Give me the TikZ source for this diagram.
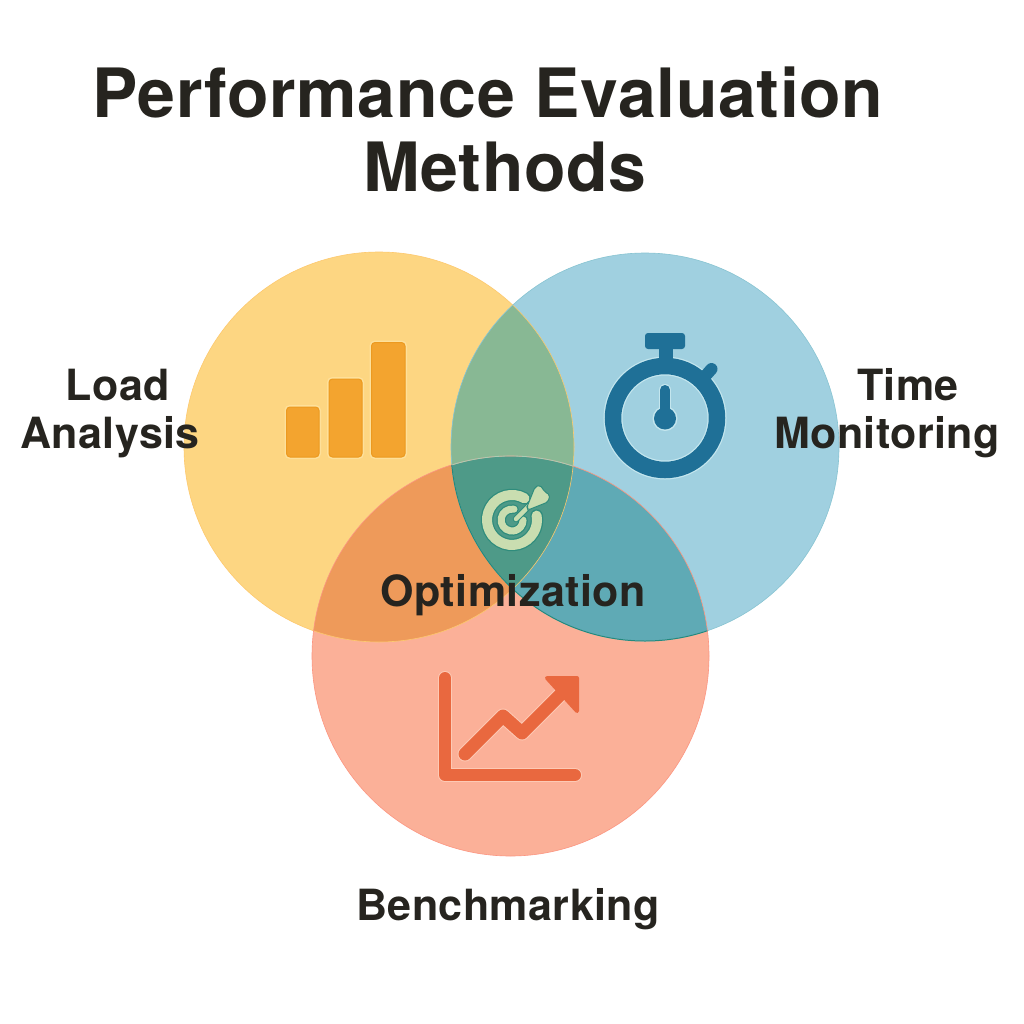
\documentclass[tikz,border=0pt]{standalone}
\usepackage{fontspec}
\setmainfont{TeX Gyre Heros}[LetterSpace=1]
\usetikzlibrary{calc}
\definecolor{ink}{HTML}{26241F}
\definecolor{cY}{HTML}{FDD682}
\definecolor{cB}{HTML}{A0D0E0}
\definecolor{cR}{HTML}{FBB098}
\definecolor{cYB}{HTML}{88B894}
\definecolor{cYR}{HTML}{EE9A5A}
\definecolor{cBR}{HTML}{5FAAB5}
\definecolor{cAll}{HTML}{4E9A88}
\definecolor{bar}{HTML}{F3A42F}
\definecolor{barE}{HTML}{EC9A20}
\definecolor{barH}{HTML}{FEE09A}
\definecolor{watch}{HTML}{1F7097}
\definecolor{watchH}{HTML}{C4E6EE}
\definecolor{chart}{HTML}{E9683F}
\definecolor{chartH}{HTML}{FDC9B4}
\definecolor{dart}{HTML}{C9DDB0}
\definecolor{dartE}{HTML}{2F8C7C}
\tikzset{
  x=1pt,y=-1pt,
  title/.style={font=\fontsize{68}{78}\selectfont\bfseries,text=ink,inner sep=0pt,anchor=base},
  label/.style={font=\fontsize{43}{48}\selectfont\bfseries,text=ink,inner sep=0pt,anchor=base},
  barbox/.style={rounded corners=3.5pt,fill=bar,draw=barE,line width=1pt,preaction={draw=barH,line width=4pt}},
}
\def\cYp{(379,447) circle[radius=195]}
\def\cBp{(645,447) circle[radius=194]}
\def\cRp{(510.5,656) ellipse[x radius=198.5,y radius=200]}
\begin{document}
\begin{tikzpicture}
\useasboundingbox (0,0) rectangle (1024,1024);
\fill[white] (0,0) rectangle (1024,1024);
% circles
\fill[cY] \cYp;
\fill[cB] \cBp;
\fill[cR] \cRp;
\begin{scope}\clip \cYp; \fill[cYB] \cBp; \fill[cYR] \cRp; \end{scope}
\begin{scope}\clip \cBp; \fill[cBR] \cRp; \end{scope}
\begin{scope}\clip \cYp; \clip \cBp; \fill[cAll] \cRp; \end{scope}
\draw[cY!85!orange,line width=.6pt] \cYp;
\draw[cB!85!teal,line width=.6pt] \cBp;
\draw[cR!85!red,line width=.6pt] \cRp;
\begin{scope}\clip \cYp; \clip \cBp; \draw[cYB!70!white,line width=.8pt] \cRp; \end{scope}
\begin{scope}\clip \cRp; \draw[dartE!80!teal,line width=1pt] \cBp; \end{scope}
% bars
\draw[barbox] (286.5,407) rectangle (319,457);
\draw[barbox] (329,379) rectangle (362,457);
\draw[barbox] (371.5,342.5) rectangle (405,457);
% stopwatch
\draw[watchH,line width=19pt] (665,418) circle[radius=52];
\draw[watch,line width=16.5pt] (665,418) circle[radius=52];
\fill[watch] (659,345) rectangle (673,364);
\fill[watch,rounded corners=3pt] (645,333) rectangle (685,349);
\draw[watch,line width=12pt,line cap=round] (700,382) -- (711.5,369);
\draw[watchH,line width=12pt,line cap=round] (665,390) -- (665,418);
\fill[watchH] (665,418.5) circle[radius=12.5];
\draw[watch,line width=10pt,line cap=round] (665,390) -- (665,418);
\fill[watch] (665,418.5) circle[radius=11];
% chart
\draw[chartH,line width=14pt,line cap=round,line join=round] (445,678) -- (445,775) -- (575,775);
\draw[chart,line width=12pt,line cap=round,line join=round] (445,678) -- (445,775) -- (575,775);
\draw[chartH,line width=15pt,line cap=round,line join=round] (465,754) -- (503,716) -- (522,733) -- (562,693);
\draw[chart,line width=13pt,line cap=round,line join=round] (465,754) -- (503,716) -- (522,733) -- (562,693);
\draw[chart,fill=chart,line width=4pt,line join=round] (547,678) -- (577,678) -- (577,711) -- cycle;
% target
\foreach \c/\w/\v in {dartE/12.5/9.5,dart/10/7}{
  \draw[\c,line width=\w pt,line cap=round] (524.5,498.3) arc[start angle=-60,delta angle=-310,radius=25];
  \draw[\c,line width=\v pt,line cap=round] (514,509.2) arc[start angle=-80,delta angle=-280,radius=11];
}
\draw[dartE,line width=6.5pt,line cap=round] (516,519) -- (529,506);
\draw[dart,line width=4.5pt,line cap=round] (516,519) -- (529,506);
\draw[dartE,fill=dart,line width=1pt,rounded corners=2pt] (527,507) -- (535,487) -- (540,485) -- (545,492) -- (550,495) -- (548,502) -- (528,510) -- cycle;
% texts
\node[title] (t1) at (488,118) {Performance Evaluation};
\node[title] (t2) at (505,192) {Methods};
\node[label] (l1a) at (118,400) {Load};
\node[label] (l1b) at (110,448) {Analysis};
\node[label] (l2a) at (908,400) {Time};
\node[label] (l2b) at (887,448) {Monitoring};
\node[label] (l3) at (513,606) {Optimization};
\node[label] (l4) at (508,920) {Benchmarking};
\end{tikzpicture}
\end{document}
